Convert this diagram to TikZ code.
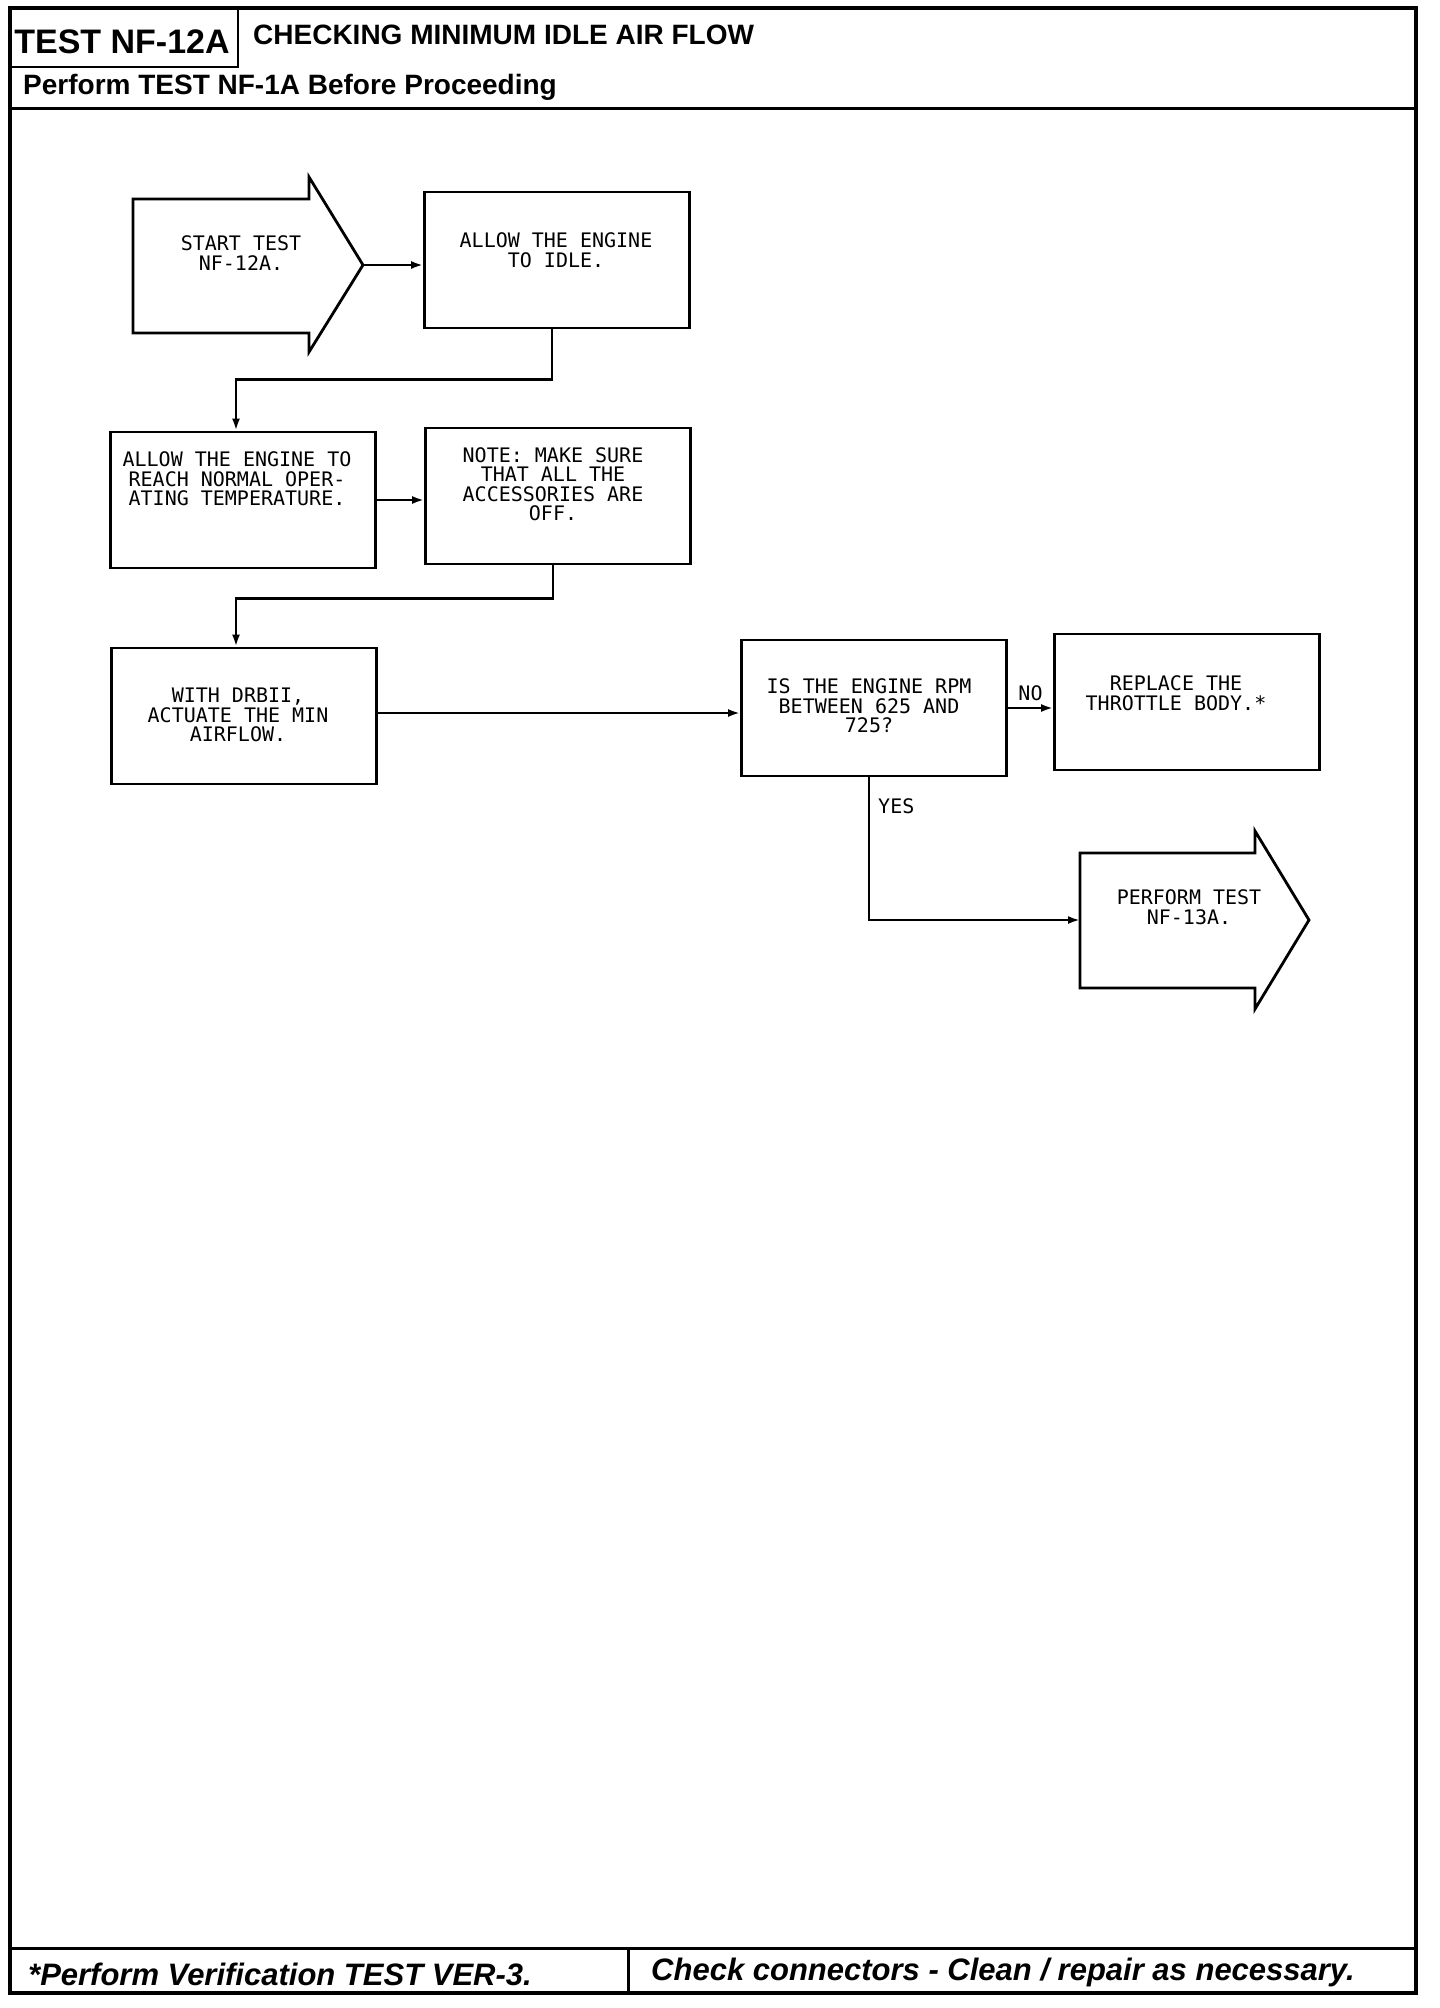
\documentclass[tikz,border=0pt]{standalone}
\usepackage{fontspec}
\setmainfont{Liberation Sans}
\newfontfamily\plotfont{DejaVu Sans Mono}
\usetikzlibrary{positioning,arrows.meta,calc}
\tikzset{
 frame/.style={line width=4pt, line cap=rect},
 rule/.style={line width=3pt},
 box/.style={draw, line width=2.8pt, minimum width=265pt, minimum height=136pt, inner sep=0pt},
 bigarrow/.style={draw, line width=2.8pt, line join=miter},
 txt/.style={font=\plotfont\fontsize{20}{19.5}\selectfont, align=center, inner sep=0pt},
 lbl/.style={font=\plotfont\fontsize{20}{19.5}\selectfont, inner sep=0pt},
 arr/.style={-{Latex[length=12pt,width=8pt]}, line width=2.4pt},
 head/.style={font=\bfseries\fontsize{28}{32}\selectfont, inner sep=0pt},
 foot/.style={font=\bfseries\itshape\fontsize{31}{36}\selectfont, inner sep=0pt, anchor=west},
}
\begin{document}
\begin{tikzpicture}[x=1pt, y=-1pt]
\useasboundingbox (0,0) rectangle (1440,2008);
% page frame, header and footer
\draw[frame] (10,8) rectangle (1416,1993);
\draw[line width=2.4pt] (238,8) -- (238,67) -- (10,67);
\draw[rule] (10,108) -- (1416,108);
\draw[rule] (10,1948) -- (1416,1948);
\draw[rule] (628,1948) -- (628,1993);
\node[head, font=\bfseries\fontsize{34}{40}\selectfont] (tno) at (122,42) {TEST NF-12A};
\node[head, anchor=west] (ttl) at (253,35) {CHECKING MINIMUM IDLE AIR FLOW};
\node[head, anchor=west] (pre) at (23,87) {Perform TEST NF-1A Before Proceeding};
\node[foot] (ver) at (28,1974) {*Perform Verification TEST VER-3.};
\node[foot] (chk) at (651,1972) {Check connectors - Clean / repair as necessary.};
% start and exit arrows
\draw[bigarrow] (133,199) -- (309,199) -- (309,177) -- (363,265) -- (309,352) -- (309,333) -- (133,333) -- cycle;
\coordinate (starttip) at (363,265);
\node[txt] (startT) at (241,253) {START TEST\\NF-12A.};
\draw[bigarrow] (1080,853) -- (1255,853) -- (1255,831) -- (1309,920) -- (1255,1009) -- (1255,988) -- (1080,988) -- cycle;
\coordinate (perfin) at (1080,920);
\node[txt] (perfT) at (1189,907) {PERFORM TEST\\NF-13A.};
% steps
\node[box] (idle) at (557,260) {};
\node[box] (temp) at (243,500) {};
\node[box] (note) at (558,496) {};
\node[box] (obd) at (244,716) {};
\node[box] (rpm) at (874,708) {};
\node[box] (repl) at (1187,702) {};
\node[txt] (idleT) at (556,250) {ALLOW THE ENGINE\\TO IDLE.};
\node[txt] (tempT) at (237,479) {ALLOW THE ENGINE TO\\REACH NORMAL OPER-\\ATING TEMPERATURE.};
\node[txt] (noteT) at (553,484) {NOTE: MAKE SURE\\THAT ALL THE\\ACCESSORIES ARE\\OFF.};
\node[txt] (obdT) at (238,715) {WITH DRBII,\\ACTUATE THE MIN\\AIRFLOW.};
\node[txt] (rpmT) at (869,706) {IS THE ENGINE RPM\\BETWEEN 625 AND\\725?};
\node[txt] (replT) at (1176,693) {REPLACE THE\\THROTTLE BODY.*};
% connectors
\draw[arr] (starttip) -- (starttip -| idle.west);
\draw[arr] ([xshift=-5pt]idle.south) -- ++(0,50) -| ([xshift=-7pt]temp.north);
\draw[arr] (temp.east) -- (temp.east -| note.west);
\draw[arr] ([xshift=-5pt]note.south) -- ++(0,33) -| ([xshift=-8pt]obd.north);
\draw[arr] ([yshift=3pt]obd.east) -- ([yshift=3pt]obd.east -| rpm.west);
\draw[arr] (rpm.east) -- node[lbl, above=6pt] (no) {NO} (rpm.east -| repl.west);
\draw[arr] ([xshift=-5pt]rpm.south) |- node[lbl, pos=0.1, right=8pt] (yes) {YES} (perfin);
\end{tikzpicture}
\end{document}
